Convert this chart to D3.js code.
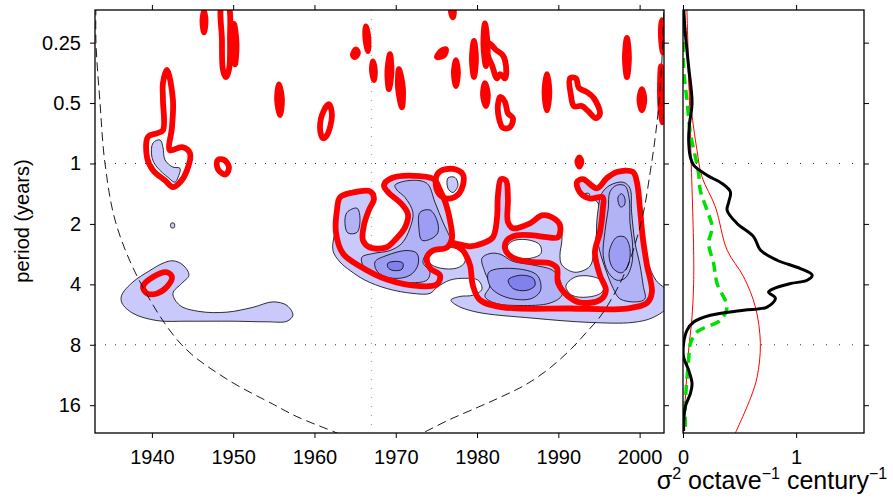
<!DOCTYPE html>
<html>
<head>
<meta charset="utf-8">
<script src="https://cdn.jsdelivr.net/npm/d3@7"></script>
<style>
  body { margin: 0; background: #fff; }
  text { font-family: "Liberation Sans", Arial, Helvetica, sans-serif; fill: #000; }
</style>
</head>
<body>
<svg id="chart" width="893" height="501"></svg>
<script>
// ---- data (year, log2 period) ----
const yearTicks = [1940, 1950, 1960, 1970, 1980, 1990, 2000];
const periodTicks = [0.25, 0.5, 1, 2, 4, 8, 16];
const powerTicks = [0, 1];

// lowest shaded level
const envelope = [[1962.27,1.44],[1962.52,1.11],[1962.77,0.77],[1963.14,0.58],[1964.73,0.48],[1966.83,0.46],[1967.32,0.58],[1966.70,0.77],[1966.09,1.02],[1965.96,1.27],[1966.83,1.37],[1968.79,1.37],[1970.02,1.24],[1971.13,1.04],[1971.50,0.84],[1970.64,0.66],[1969.16,0.49],[1968.55,0.36],[1969.53,0.24],[1972.98,0.21],[1974.70,0.24],[1975.44,0.41],[1976.30,0.66],[1976.67,0.94],[1976.91,1.24],[1978.51,1.34],[1980.72,1.30],[1981.83,1.20],[1982.32,0.91],[1982.45,0.53],[1982.82,0.26],[1983.55,0.28],[1983.80,0.58],[1983.80,0.94],[1984.54,1.06],[1986.51,0.97],[1987.98,0.84],[1989.33,0.87],[1990.32,1.04],[1990.44,1.27],[1990.20,1.52],[1990.44,1.68],[1992.04,1.80],[1993.89,1.70],[1994.38,1.44],[1994.75,1.11],[1995.24,0.81],[1994.62,0.61],[1993.27,0.54],[1992.29,0.38],[1993.02,0.26],[1994.62,0.39],[1995.85,0.26],[1996.71,0.14],[1999.17,0.13],[1999.79,0.31],[2000.16,0.74],[2000.53,1.24],[2001.02,1.63],[2002.00,1.93],[2003.5,2.13],[2003.5,2.36],[2001.63,2.55],[1999.17,2.63],[1993.89,2.63],[1986.87,2.56],[1979.99,2.46],[1977.53,2.35],[1976.79,2.26],[1977.90,2.20],[1979.49,2.18],[1980.60,2.08],[1980.11,1.93],[1978.51,1.90],[1976.67,1.93],[1975.07,2.05],[1974.21,2.15],[1972.11,2.15],[1968.92,2.07],[1966.21,1.93],[1964.37,1.77],[1963.14,1.63]];
const blob1942 = [[1941.0,-0.39],[1941.36,-0.27],[1941.61,-0.06],[1942.59,0.06],[1943.46,0.08],[1943.21,0.23],[1942.84,0.31],[1941.98,0.23],[1940.63,0.06],[1940.01,-0.10],[1940.13,-0.34]];
const blobLow = [[1936.28,2.18],[1937.67,1.96],[1939.77,1.77],[1941.36,1.65],[1942.59,1.61],[1943.82,1.68],[1944.56,1.85],[1943.70,1.98],[1942.59,2.15],[1943.46,2.35],[1945.92,2.45],[1949.24,2.46],[1952.43,2.38],[1954.89,2.29],[1956.62,2.35],[1957.35,2.51],[1956.62,2.61],[1954.16,2.62],[1949.97,2.61],[1944.32,2.61],[1940.63,2.60],[1937.67,2.48],[1936.32,2.31]];
const dot1942 = [[1942.35,0.99],[1942.75,0.99],[1942.75,1.06],[1942.35,1.06]];
const dot1977 = [[1976.42,0.24],[1977.28,0.23],[1977.65,0.36],[1977.03,0.48],[1976.42,0.41]];
const dot1993 = [[1993.3,0.50],[1993.8,0.50],[1993.8,0.56],[1993.3,0.56]];
const lightShapes = [envelope, blob1942, blobLow, dot1942, dot1977, dot1993];

const holes = [
  [[1973.96,1.47],[1975.44,1.40],[1977.28,1.40],[1978.26,1.47],[1978.51,1.63],[1977.53,1.73],[1975.44,1.73],[1974.21,1.65]],
  [[1983.80,1.35],[1984.66,1.27],[1986.51,1.27],[1987.74,1.35],[1987.86,1.49],[1986.51,1.57],[1984.66,1.55],[1983.80,1.47]],
  [[1990.93,2.03],[1992.04,1.88],[1994.13,1.87],[1995.61,1.97],[1995.36,2.13],[1993.64,2.21],[1991.67,2.18]]
];

const level2 = [
  [[1964.00,0.81],[1965.23,0.74],[1965.60,0.91],[1965.23,1.14],[1964.12,1.15],[1963.75,0.99]],
  [[1969.90,0.36],[1971.75,0.28],[1973.84,0.33],[1974.82,0.64],[1975.80,0.97],[1976.67,1.22],[1977.03,1.35],[1976.30,1.39],[1974.21,1.44],[1973.34,1.63],[1974.21,1.80],[1973.84,1.93],[1971.38,1.97],[1968.06,1.88],[1965.96,1.68],[1965.84,1.55],[1967.19,1.49],[1969.29,1.44],[1970.76,1.32],[1971.75,1.07],[1972.11,0.81],[1971.13,0.56],[1970.15,0.44]],
  [[1980.60,1.57],[1981.59,1.49],[1982.82,1.50],[1984.41,1.62],[1986.87,1.68],[1989.33,1.77],[1990.20,1.93],[1990.44,2.18],[1988.97,2.31],[1985.28,2.35],[1982.20,2.31],[1980.97,2.20],[1981.59,2.02],[1980.97,1.80]],
  [[1995.32,0.50],[1996.35,0.36],[1997.98,0.31],[1998.81,0.41],[1999.01,0.80],[1999.42,1.30],[2000.04,1.68],[2000.44,2.02],[2000.65,2.24],[1999.63,2.29],[1997.58,2.24],[1996.76,2.07],[1995.94,1.80],[1995.12,1.46],[1994.71,1.13],[1994.91,0.75]],
  [[1996.35,0.47],[1997.17,0.36],[1998.19,0.37],[1998.72,0.58],[1998.81,0.97],[1999.14,1.35],[1999.01,1.68],[1998.19,1.90],[1997.17,1.93],[1996.14,1.80],[1995.52,1.52],[1995.73,1.13],[1996.14,0.75]]
];
const level3 = [
  [[1972.98,0.81],[1974.21,0.77],[1975.07,0.94],[1975.19,1.14],[1974.45,1.24],[1973.22,1.27],[1972.85,1.07]],
  [[1967.44,1.63],[1968.92,1.52],[1971.38,1.44],[1972.61,1.49],[1972.73,1.68],[1971.75,1.85],[1969.65,1.90],[1967.81,1.80]],
  [[1981.45,1.80],[1984.73,1.74],[1987.40,1.85],[1987.81,2.10],[1986.58,2.24],[1983.49,2.21],[1981.64,2.04]],
  [[1997.37,0.55],[1997.79,0.50],[1998.19,0.58],[1998.11,0.69],[1997.66,0.72],[1997.37,0.64]],
  [[1996.35,1.41],[1997.17,1.22],[1998.19,1.22],[1998.81,1.41],[1998.60,1.68],[1997.79,1.81],[1996.76,1.74],[1996.27,1.57]]
];
const level4 = [
  [[1969.04,1.65],[1970.15,1.62],[1970.88,1.65],[1970.76,1.75],[1969.65,1.77],[1969.04,1.72]],
  [[1983.84,1.93],[1985.28,1.85],[1986.92,1.90],[1987.12,2.02],[1986.10,2.10],[1984.45,2.07]]
];

// significance contours (red)
const sigLoops = [
  [[1941.86,-1.55],[1942.59,-1.05],[1942.47,-0.60],[1942.22,-0.22],[1943.70,-0.27],[1944.69,-0.17],[1944.32,0.11],[1943.46,0.31],[1942.59,0.39],[1941.61,0.28],[1940.13,0.11],[1939.40,-0.10],[1939.52,-0.44],[1940.63,-0.50],[1941.36,-0.55],[1941.36,-1.05],[1941.36,-1.33]],
  [[1948.13,-0.06],[1948.87,-0.06],[1949.48,0.06],[1949.11,0.18],[1948.38,0.14],[1948.01,0.05]],
  [[1938.90,2.04],[1940.13,1.88],[1941.86,1.80],[1942.47,1.88],[1941.86,2.04],[1940.63,2.15],[1939.40,2.15]],
  [[1963.14,0.56],[1964.73,0.48],[1966.83,0.46],[1967.32,0.58],[1966.70,0.77],[1966.09,1.02],[1965.96,1.27],[1966.83,1.39],[1968.79,1.39],[1970.02,1.25],[1971.13,1.06],[1971.50,0.84],[1970.64,0.66],[1969.16,0.49],[1968.55,0.36],[1969.53,0.24],[1972.98,0.21],[1974.70,0.26],[1975.44,0.44],[1976.17,0.67],[1976.67,0.94],[1976.91,1.24],[1976.30,1.39],[1974.58,1.44],[1973.84,1.55],[1974.21,1.73],[1975.44,1.85],[1975.07,2.00],[1972.98,2.03],[1968.92,1.92],[1965.60,1.70],[1963.50,1.49],[1962.64,1.14],[1962.77,0.77]],
  [[1974.94,0.24],[1975.44,0.13],[1977.03,0.09],[1978.26,0.18],[1978.26,0.36],[1977.53,0.53],[1976.30,0.58],[1975.19,0.48]],
  [[1977.03,1.32],[1979.13,1.37],[1980.72,1.32],[1981.95,1.22],[1982.45,0.91],[1982.57,0.53],[1982.94,0.26],[1983.55,0.28],[1983.80,0.58],[1983.80,0.97],[1984.41,1.07],[1986.51,0.99],[1987.98,0.86],[1989.21,0.89],[1990.20,1.02],[1989.95,1.22],[1988.60,1.22],[1986.87,1.19],[1984.91,1.19],[1983.68,1.27],[1983.43,1.40],[1984.29,1.55],[1986.51,1.63],[1988.97,1.65],[1989.83,1.73],[1989.95,1.97],[1991.06,2.18],[1992.66,2.30],[1995.12,2.26],[1995.85,2.10],[1995.12,1.85],[1994.50,1.47],[1995.12,1.14],[1995.48,0.74],[1995.48,0.56],[1993.89,0.58],[1992.66,0.48],[1992.29,0.31],[1993.02,0.26],[1994.75,0.41],[1995.98,0.24],[1997.21,0.14],[1999.17,0.14],[1999.67,0.31],[2000.04,0.74],[2000.40,1.24],[2000.90,1.68],[2001.51,2.13],[2000.90,2.31],[1998.44,2.40],[1991.43,2.40],[1983.18,2.38],[1980.36,2.26],[1979.49,2.02],[1979.13,1.68],[1978.26,1.44]],
  // small high-frequency patches
  [[1946.41,-2.52],[1946.60,-2.35],[1946.41,-2.17],[1946.22,-2.35]],
  [[1948.62,-2.61],[1949.36,-2.61],[1949.61,-2.04],[1949.48,-1.55],[1949.11,-1.43],[1948.74,-1.55],[1948.62,-2.04]],
  [[1950.10,-2.31],[1950.41,-1.98],[1950.22,-1.64],[1949.91,-1.98]],
  [[1955.63,-1.31],[1956.00,-1.06],[1955.76,-0.80],[1955.40,-1.06]],
  [[1961.78,-0.98],[1962.15,-0.80],[1961.54,-0.47],[1961.04,-0.42],[1960.68,-0.59],[1961.17,-0.88]],
  [[1964.73,-1.79],[1965.10,-1.89],[1965.35,-1.83],[1964.98,-1.76]],
  [[1966.33,-2.27],[1966.63,-2.07],[1966.58,-1.86],[1966.27,-2.07]],
  [[1967.19,-1.69],[1967.43,-1.54],[1967.32,-1.38],[1967.07,-1.54]],
  [[1969.29,-1.81],[1969.47,-1.52],[1969.16,-1.23],[1968.97,-1.52]],
  [[1970.39,-1.56],[1970.88,-1.25],[1970.76,-0.93],[1970.28,-1.25]],
  [[1976.91,-2.61],[1977.15,-2.51],[1977.03,-2.42],[1976.79,-2.51]],
  [[1975.07,-1.76],[1975.56,-1.86],[1976.17,-1.89],[1975.93,-1.79]],
  [[1977.40,-1.71],[1977.65,-1.50],[1977.40,-1.28],[1977.15,-1.50]],
  [[1979.62,-2.03],[1979.87,-1.73],[1979.62,-1.43],[1979.37,-1.73]],
  [[1980.97,-2.32],[1981.28,-1.97],[1981.09,-1.61],[1980.78,-1.97]],
  [[1981.46,-1.99],[1982.32,-1.88],[1983.18,-1.79],[1983.55,-1.63],[1983.43,-1.41],[1982.82,-1.48],[1982.45,-1.41],[1981.83,-1.63],[1981.34,-1.79]],
  [[1980.97,-1.33],[1981.33,-1.14],[1981.09,-0.95],[1980.73,-1.14]],
  [[1982.82,-1.10],[1983.43,-1.02],[1983.80,-0.83],[1984.41,-0.75],[1984.05,-0.60],[1983.18,-0.59],[1982.69,-0.75],[1982.57,-0.97]],
  [[1988.60,-1.48],[1988.90,-1.18],[1988.60,-0.88],[1988.30,-1.18]],
  [[1991.43,-1.41],[1992.16,-1.41],[1992.53,-1.25],[1993.52,-1.18],[1994.38,-1.08],[1995.12,-0.82],[1994.62,-0.75],[1993.64,-0.87],[1992.90,-0.95],[1991.92,-0.95],[1991.55,-1.13]],
  [[1998.44,-2.08],[1998.69,-1.75],[1998.44,-1.43],[1998.19,-1.75]],
  [[2000.28,-1.23],[2000.58,-1.06],[2000.28,-0.88],[1999.98,-1.06]],
  [[2002.74,-2.37],[2002.98,-2.11],[2002.86,-1.84],[2002.62,-2.11]],
  [[2002.62,-1.61],[2002.86,-1.15],[2002.74,-0.68],[2002.50,-1.15]],
  [[1992.59,-0.10],[1992.84,-0.03],[1992.59,0.05],[1992.34,-0.03]]
];

// cone of influence
const coiLeft = [[1933.12,-2.6],[1933.12,-2.0],[1933.62,-1.0],[1934.23,0],[1935.6,1.0],[1938.7,2.0],[1943.66,3.0],[1949.0,3.55],[1955.14,4.0],[1957.85,4.19],[1962.77,4.46],[1965.5,4.62]];
const coiRight = [[1970.5,4.62],[1973.3,4.46],[1976.42,4.25],[1980.0,4.04],[1983.0,3.86],[1986.0,3.66],[1989.0,3.38],[1991.64,3.06],[1993.48,2.79],[1995.12,2.54],[1996.68,2.21],[1997.91,1.89],[1999.01,1.52],[2000.44,0.83],[2001.27,0.17],[2001.88,-0.39],[2002.29,-0.88],[2002.70,-1.60],[2002.90,-2.26],[2003.0,-2.6]];

// side panel: [period, power]
const globalSpectrum = [[0.172,0.005],[0.224,0.02],[0.33,0.05],[0.50,0.08],[0.632,0.058],[0.765,0.05],[0.927,0.065],[1.02,0.094],[1.144,0.212],[1.258,0.345],[1.385,0.419],[1.55,0.405],[1.709,0.39],[1.99,0.478],[2.32,0.625],[2.7,0.684],[3.034,0.832],[3.337,1.038],[3.603,1.142],[3.815,1.097],[3.964,0.95],[4.198,0.802],[4.37,0.756],[4.7,0.817],[5.19,0.743],[5.38,0.536],[5.7,0.242],[6.16,0.094],[6.78,0.035],[7.9,0.005],[9.2,0.005],[10.7,0.05],[12.5,0.08],[14.0,0.065],[16.3,0.02],[21.5,0.005]];
const greenSpectrum = [[0.172,0.005],[0.33,0.005],[0.484,0.035],[0.706,0.065],[0.927,0.109],[1.12,0.138],[1.36,0.153],[1.709,0.212],[2.07,0.257],[2.5,0.227],[3.15,0.271],[3.96,0.301],[5.19,0.389],[6.04,0.33],[6.9,0.124],[7.9,0.065],[9.5,0.05],[15.7,0.02],[20.5,0.02],[22,0.02]];
const redBackground = [[0.172,0.035],[0.706,0.065],[2.7,0.094],[3.96,0.094],[5.8,0.08],[8.5,0.05],[15,0.02],[22,0.005]];
const redSignif = [[0.172,0.015],[0.193,0.02],[0.484,0.065],[0.86,0.124],[1.166,0.168],[1.645,0.286],[2.70,0.39],[3.67,0.536],[5.19,0.64],[7.9,0.684],[11.6,0.655],[14.8,0.596],[22,0.463]];

// ---- drawing ----
const svg = d3.select("#chart");
const x = d3.scaleLinear().domain([1933, 2003]).range([95, 664]);
const y = d3.scaleLinear().domain([-2.54, 4.46]).range([10, 433]);   // log2(period)
const xp = d3.scaleLinear().domain([0, 1.6]).range([683, 864]);

const defs = svg.append("defs");
defs.append("clipPath").attr("id", "clipMain").append("rect")
  .attr("x", 95).attr("y", 10).attr("width", 569).attr("height", 423);
defs.append("clipPath").attr("id", "clipSide").append("rect")
  .attr("x", 683).attr("y", 10).attr("width", 181).attr("height", 423);

const loop = d3.line().x(d => x(d[0])).y(d => y(d[1])).curve(d3.curveCatmullRomClosed.alpha(0.5));
const openLine = d3.line().x(d => x(d[0])).y(d => y(d[1])).curve(d3.curveCatmullRom.alpha(0.5));

const plot = svg.append("g").attr("clip-path", "url(#clipMain)");

// dotted reference lines
[0, 3].forEach(v => {
  plot.append("line").attr("x1", x(1933)).attr("x2", x(2003)).attr("y1", y(v)).attr("y2", y(v))
    .attr("stroke", "#333").attr("stroke-width", 1).attr("stroke-dasharray", "1,9");
});
plot.append("line").attr("x1", x(1967)).attr("x2", x(1967)).attr("y1", 10).attr("y2", 433)
  .attr("stroke", "#999").attr("stroke-width", 1).attr("stroke-dasharray", "1,8");

function drawFill(shapes, color) {
  plot.append("g").selectAll("path").data(shapes).join("path")
    .attr("d", loop).attr("fill", color).attr("stroke", "#000").attr("stroke-width", 0.8);
}
drawFill(lightShapes, "#c9c9fb");
drawFill(holes, "#ffffff");
drawFill(level2, "#b2b2f7");
drawFill(level3, "#9d9df3");
drawFill(level4, "#8181ee");

plot.append("g").selectAll("path").data(sigLoops).join("path")
  .attr("d", loop).attr("fill", "none").attr("stroke", "#ff0000")
  .attr("stroke-width", 5.8).attr("stroke-linejoin", "round");

plot.append("path").attr("d", openLine(coiLeft.concat(coiRight)))
  .attr("fill", "none").attr("stroke", "#000").attr("stroke-width", 0.9).attr("stroke-dasharray", "9,5");

// side panel
const side = svg.append("g").attr("clip-path", "url(#clipSide)");
[0, 3].forEach(v => {
  side.append("line").attr("x1", xp(0)).attr("x2", xp(1.6)).attr("y1", y(v)).attr("y2", y(v))
    .attr("stroke", "#333").attr("stroke-width", 1).attr("stroke-dasharray", "1,12");
});
const specLine = d3.line().x(d => xp(d[1])).y(d => y(Math.log2(d[0]))).curve(d3.curveCatmullRom.alpha(0.5));
side.append("path").attr("d", specLine(redBackground)).attr("fill", "none").attr("stroke", "#ff0000").attr("stroke-width", 1);
side.append("path").attr("d", specLine(redSignif)).attr("fill", "none").attr("stroke", "#ff0000").attr("stroke-width", 1);
side.append("path").attr("d", specLine(greenSpectrum)).attr("fill", "none").attr("stroke", "#00e000")
  .attr("stroke-width", 3.5).attr("stroke-dasharray", "10,6");
side.append("path").attr("d", specLine(globalSpectrum)).attr("fill", "none").attr("stroke", "#000").attr("stroke-width", 3);

// frames
svg.append("rect").attr("x", 95).attr("y", 10).attr("width", 569).attr("height", 423)
  .attr("fill", "none").attr("stroke", "#000").attr("stroke-width", 1.3);
svg.append("rect").attr("x", 683).attr("y", 10).attr("width", 181).attr("height", 423)
  .attr("fill", "none").attr("stroke", "#000").attr("stroke-width", 1.3);

// axes
function styleAxis(g) {
  g.select(".domain").remove();
  g.selectAll(".tick line").attr("stroke", "#000").attr("stroke-width", 1);
  g.selectAll(".tick text").style("font-size", "20px").attr("fill", "#000");
}
const lpTicks = periodTicks.map(Math.log2);

svg.append("g").attr("transform", "translate(0,433)")
  .call(d3.axisBottom(x).tickValues(yearTicks).tickSize(5).tickPadding(12).tickFormat(d3.format("d")))
  .call(styleAxis);
svg.append("g").attr("transform", "translate(0,10)")
  .call(d3.axisTop(x).tickValues(yearTicks).tickSize(5).tickFormat(""))
  .call(styleAxis);
svg.append("g").attr("transform", "translate(95,0)")
  .call(d3.axisLeft(y).tickValues(lpTicks).tickSize(5).tickPadding(9).tickFormat(d => String(2 ** d)))
  .call(styleAxis);
svg.append("g").attr("transform", "translate(664,0)")
  .call(d3.axisRight(y).tickValues(lpTicks).tickSize(5).tickFormat(""))
  .call(styleAxis);

svg.append("g").attr("transform", "translate(0,433)")
  .call(d3.axisBottom(xp).tickValues(powerTicks).tickSize(5).tickPadding(12).tickFormat(d3.format("d")))
  .call(styleAxis);
svg.append("g").attr("transform", "translate(0,10)")
  .call(d3.axisTop(xp).tickValues(powerTicks).tickSize(5).tickFormat(""))
  .call(styleAxis);
svg.append("g").attr("transform", "translate(864,0)")
  .call(d3.axisRight(y).tickValues(lpTicks).tickSize(5).tickFormat(""))
  .call(styleAxis);

// labels
svg.append("text").attr("transform", "translate(29,221) rotate(-90)")
  .attr("text-anchor", "middle").style("font-size", "20px").text("period (years)");

const lab = svg.append("text").attr("x", 772).attr("y", 489).attr("text-anchor", "middle").style("font-size", "25px");
lab.append("tspan").text("σ");
lab.append("tspan").attr("dy", -10).style("font-size", "16px").text("2");
lab.append("tspan").attr("dy", 10).text(" octave");
lab.append("tspan").attr("dy", -10).style("font-size", "16px").text("−1");
lab.append("tspan").attr("dy", 10).text(" century");
lab.append("tspan").attr("dy", -10).style("font-size", "16px").text("−1");
</script>
</body>
</html>
